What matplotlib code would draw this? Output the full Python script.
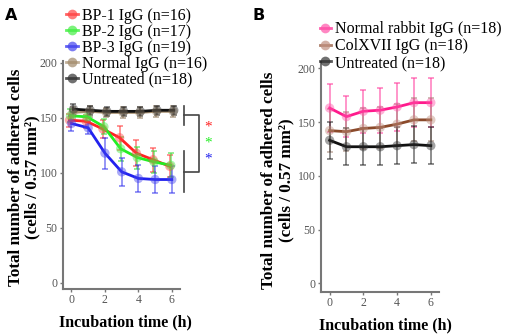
import numpy as np
import matplotlib
matplotlib.use("Agg")
import matplotlib.pyplot as plt
from matplotlib.lines import Line2D

# Datos
hours = [0, 1, 2, 3, 4, 5, 6]

# Panel A
a_labels = ["BP-1 IgG (n=16)", "BP-2 IgG (n=17)", "BP-3 IgG (n=19)",
            "Normal IgG (n=16)", "Untreated (n=18)"]
bp1 = [148, 147, 140, 132, 118, 112, 106]
bp2 = [152, 151, 142, 122, 114, 110, 107]
bp3 = [145, 141, 118, 101, 95, 94, 94]
normal_igg = [155, 156, 155, 155, 155, 156, 156]
untreated_a = [158, 157, 156, 156, 156, 157, 157]
bp1_err = [6, 6, 8, 11, 12, 11, 10]
bp2_err = [6, 5, 7, 11, 10, 10, 11]
bp3_err = [7, 6, 14, 13, 12, 12, 12]
normal_err = [5, 5, 4, 5, 5, 5, 5]
untreated_a_err = [5, 4, 4, 4, 4, 4, 4]

# Panel B
b_labels = ["Normal rabbit IgG (n=18)", "ColXVII IgG (n=18)", "Untreated (n=18)"]
rabbit_igg = [163, 155, 160, 161, 164, 168, 168]
colxvii = [142, 141, 144, 145, 148, 152, 152]
untreated_b = [133, 127, 127, 127, 128, 129, 128]
rabbit_err = [22, 19, 20, 21, 22, 23, 23]
colxvii_err = [20, 18, 19, 19, 19, 20, 20]
untreated_b_err = [17, 17, 17, 17, 17, 17, 17]

plt.rcParams["font.family"] = ["Liberation Serif", "DejaVu Serif"]

fig = plt.figure(figsize=(5.09, 3.34), dpi=100)
ax_a = fig.add_axes([0.124, 0.135, 0.230, 0.683])
ax_b = fig.add_axes([0.631, 0.126, 0.232, 0.689])


def draw_series(ax, x, y, err, line_col, mark_col, err_col):
    ax.errorbar(x, y, yerr=err, fmt="none", ecolor=err_col, elinewidth=1.2,
                capsize=2, capthick=1.2, alpha=0.6, zorder=2)
    ax.plot(x, y, color=line_col, lw=2, zorder=3)
    ax.scatter(x, y, s=45, color=mark_col, alpha=0.45, edgecolors="none", zorder=4)


def style_axes(ax, ylim, ylab_xy, xlab_xy):
    ax.set_xlim(-0.5, 6.5)
    ax.set_ylim(*ylim)
    ax.set_xticks([0, 2, 4, 6])
    ax.set_yticks([0, 50, 100, 150, 200])
    for s in ["top", "right"]:
        ax.spines[s].set_visible(False)
    for s in ["left", "bottom"]:
        ax.spines[s].set_color("#777777")
        ax.spines[s].set_linewidth(1.5)
    ax.tick_params(axis="both", length=2, width=1, color="#777777",
                   labelsize=8.5, labelcolor="#555555", pad=2)
    ax.set_xlabel("Incubation time (h)", fontsize=11.5, fontweight="bold")
    ax.set_ylabel("Total number of adhered cells\n(cells / 0.57 mm²)",
                  fontsize=12.3, fontweight="bold", linespacing=1.1)
    ax.yaxis.set_label_coords(*ylab_xy)
    ax.xaxis.set_label_coords(*xlab_xy)


x = np.array(hours, dtype=float)

# Panel A
a_series = [
    (bp1, bp1_err, "#ff2222", "#ff4444", "#ff3333", -0.12),
    (bp2, bp2_err, "#22ee22", "#44ee44", "#33dd33", -0.06),
    (bp3, bp3_err, "#2222ee", "#4444ee", "#3333ee", 0.0),
    (normal_igg, normal_err, "#a89070", "#a08868", "#8b7355", 0.08),
    (untreated_a, untreated_a_err, "#111111", "#333333", "#222222", 0.12),
]
handles_a = []
for (y, e, lc, mc, ec, dx), lab in zip(a_series, a_labels):
    draw_series(ax_a, x + dx, y, e, lc, mc, ec)
    handles_a.append(Line2D([], [], color=lc, lw=2, marker="o", markersize=7,
                            markerfacecolor=mc, markeredgecolor="none", alpha=0.7,
                            label=lab))
style_axes(ax_a, (-5.5, 202), (-0.19, 0.49), (0.534, -0.11))

# corchetes de significancia
br = dict(color="#444444", lw=1.2, clip_on=False)
ax_a.plot([6.75, 6.75], [161, 143.5], **br)
ax_a.plot([6.75, 7.6, 7.6, 6.75], [152.5, 152.5, 101, 101], **br)
ax_a.plot([6.75, 6.75], [120, 83], **br)
for yy, col in zip([141.5, 127, 112.5], ["#ff2222", "#22ee22", "#2222ee"]):
    ax_a.text(8.15, yy, "*", color=col, fontsize=11, ha="center", va="center",
              clip_on=False)

ax_a.legend(handles=handles_a, loc="upper left", bbox_to_anchor=(-0.04, 1.268),
            frameon=False, fontsize=11.5, handlelength=0.7, handletextpad=0.25,
            labelspacing=0.0, borderpad=0)

# Panel B
b_series = [
    (rabbit_igg, rabbit_err, "#ff1a8c", "#ff55aa", "#ff3399"),
    (colxvii, colxvii_err, "#8b4a2b", "#c09080", "#a08070"),
    (untreated_b, untreated_b_err, "#111111", "#333333", "#222222"),
]
handles_b = []
for (y, e, lc, mc, ec), lab in zip(b_series, b_labels):
    draw_series(ax_b, x, y, e, lc, mc, ec)
    handles_b.append(Line2D([], [], color=lc, lw=2, marker="o", markersize=7,
                            markerfacecolor=mc, markeredgecolor="none", alpha=0.7,
                            label=lab))
style_axes(ax_b, (-8, 206), (-0.23, 0.487), (0.547, -0.11))
ax_b.legend(handles=handles_b, loc="upper left", bbox_to_anchor=(-0.08, 1.21),
            frameon=False, fontsize=11.5, handlelength=0.7, handletextpad=0.25,
            labelspacing=0.05, borderpad=0)

fig.text(0.01, 0.975, "A", fontsize=11.5, fontweight="bold", family="DejaVu Sans",
         va="top")
fig.text(0.497, 0.975, "B", fontsize=11.5, fontweight="bold", family="DejaVu Sans",
         va="top")

fig.savefig("out.png", dpi=100)
